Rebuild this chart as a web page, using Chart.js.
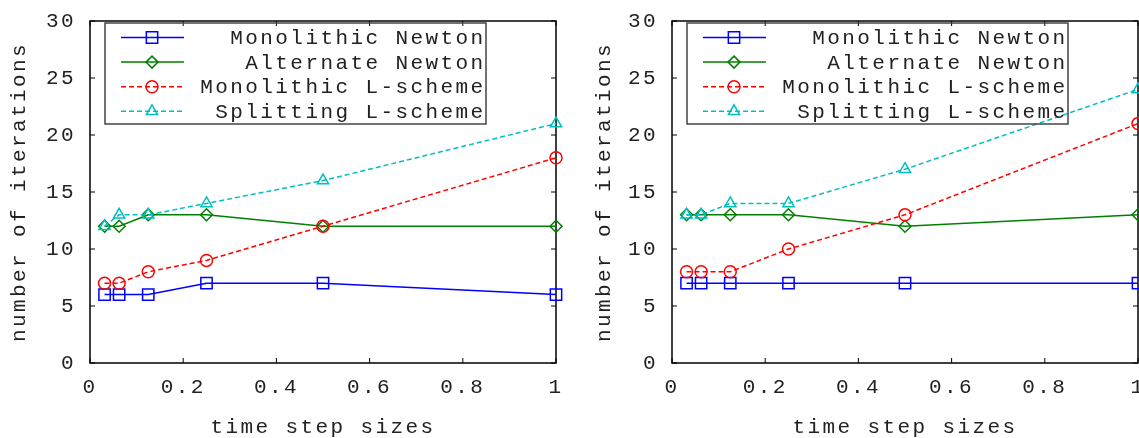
<!DOCTYPE html>
<html>
<head>
<meta charset="utf-8">
<script src="https://cdn.jsdelivr.net/npm/chart.js@4.4.1/dist/chart.umd.min.js"></script>
<style>
  html, body { margin: 0; padding: 0; background: #fff; }
  #wrap { position: relative; width: 1139px; height: 438px; overflow: hidden; }
  canvas { position: absolute; top: 0; }
</style>
</head>
<body>
<div id="wrap">
  <canvas id="left" width="570" height="438" style="left:0"></canvas>
  <canvas id="right" width="569" height="438" style="left:570px"></canvas>
</div>
<script>
// time step sizes (x) and iteration counts
const stepSizes = [1/32, 1/16, 1/8, 1/4, 1/2, 1];
const seriesNames = ['Monolithic Newton', 'Alternate Newton', 'Monolithic L-scheme', 'Splitting L-scheme'];

const leftMonoNewton  = [6, 6, 6, 7, 7, 6];
const leftAltNewton   = [12, 12, 13, 13, 12, 12];
const leftMonoL       = [7, 7, 8, 9, 12, 18];
const leftSplitL      = [12, 13, 13, 14, 16, 21];

const rightMonoNewton = [7, 7, 7, 7, 7, 7];
const rightAltNewton  = [13, 13, 13, 13, 12, 13];
const rightMonoL      = [8, 8, 8, 10, 13, 21];
const rightSplitL     = [13, 13, 14, 14, 17, 24];

const xTicks = { min: 0, max: 1, step: 0.2 };
const yTicks = { min: 0, max: 30, step: 5 };

const FONT = '"Liberation Mono", "Courier New", monospace';
const TEXT = '#222';

// gnuplot-ish line styles
const styles = [
  { color: '#0000ff', dash: [],     point: 'rect',     r: 8 },
  { color: '#008000', dash: [],     point: 'rectRot',  r: 6 },
  { color: '#ff0000', dash: [5, 3], point: 'circle',   r: 6 },
  { color: '#00bfbf', dash: [5, 3], point: 'triangle', r: 6.5 }
];

function marker(ctx, style, r, x, y) {
  ctx.beginPath();
  if (style === 'rect') {
    const h = Math.SQRT1_2 * r;
    ctx.rect(x - h, y - h, 2 * h, 2 * h);
  } else if (style === 'rectRot') {
    ctx.moveTo(x - r, y); ctx.lineTo(x, y - r); ctx.lineTo(x + r, y); ctx.lineTo(x, y + r); ctx.closePath();
  } else if (style === 'circle') {
    ctx.arc(x, y, r, 0, Math.PI * 2);
  } else {
    const a = 2 * Math.PI / 3;
    ctx.moveTo(x, y - r);
    ctx.lineTo(x + Math.sin(a) * r, y - Math.cos(a) * r);
    ctx.lineTo(x + Math.sin(2 * a) * r, y - Math.cos(2 * a) * r);
    ctx.closePath();
  }
  ctx.stroke();
}

// canvas letter spacing, so the mono font gets the wide gnuplot look
const spacing = {
  id: 'spacing',
  beforeDraw(chart) { chart.ctx.letterSpacing = '2.4px'; }
};

// box round the plot with inward tics on all four sides
const frame = {
  id: 'frame',
  beforeDatasetsDraw(chart) {
    const { ctx, chartArea: a, scales: { x, y } } = chart;
    ctx.save();
    ctx.strokeStyle = '#000';
    ctx.lineWidth = 1;
    ctx.beginPath();
    x.ticks.forEach(t => {
      const px = x.getPixelForValue(t.value);
      ctx.moveTo(px, a.bottom); ctx.lineTo(px, a.bottom - 5);
      ctx.moveTo(px, a.top); ctx.lineTo(px, a.top + 5);
    });
    y.ticks.forEach(t => {
      const py = y.getPixelForValue(t.value);
      ctx.moveTo(a.left, py); ctx.lineTo(a.left + 5, py);
      ctx.moveTo(a.right, py); ctx.lineTo(a.right - 5, py);
    });
    ctx.stroke();
    ctx.lineWidth = 1.5;
    ctx.strokeRect(a.left, a.top, a.right - a.left, a.bottom - a.top);
    ctx.restore();
  }
};

// key in the top left, text right aligned like gnuplot
const keyBox = {
  id: 'keyBox',
  afterDraw(chart) {
    const { ctx, chartArea: a } = chart;
    const x0 = a.left + 15, y0 = a.top + 2;
    ctx.save();
    ctx.strokeStyle = '#444';
    ctx.lineWidth = 1.5;
    ctx.strokeRect(x0, y0, 381, 101);
    chart.data.datasets.forEach((ds, i) => {
      const st = styles[i];
      const yy = a.top + 16.5 + i * 24.6;
      ctx.strokeStyle = st.color;
      ctx.lineWidth = 1.5;
      ctx.setLineDash(st.dash);
      ctx.beginPath();
      ctx.moveTo(x0 + 16, yy); ctx.lineTo(x0 + 79, yy);
      ctx.stroke();
      ctx.setLineDash([]);
      marker(ctx, st.point, st.r, x0 + 47, yy);
      ctx.fillStyle = TEXT;
      ctx.font = '21px ' + FONT;
      ctx.textAlign = 'right';
      ctx.textBaseline = 'middle';
      ctx.fillText(ds.label, x0 + 378 + 2.4, yy + 1);
    });
    ctx.restore();
  }
};

function buildDatasets(series) {
  return series.map((vals, i) => ({
    label: seriesNames[i],
    data: stepSizes.map((s, j) => ({ x: s, y: vals[j] })),
    order: series.length - i,   // later series drawn on top, as gnuplot does
    borderColor: styles[i].color,
    borderWidth: 1.5,
    borderDash: styles[i].dash,
    pointStyle: styles[i].point,
    pointRadius: styles[i].r,
    pointHoverRadius: styles[i].r,
    pointBorderWidth: 1.5,
    pointBorderColor: styles[i].color,
    pointBackgroundColor: 'rgba(0,0,0,0)',
    tension: 0,
    fill: false,
    clip: false
  }));
}

function makeChart(id, series, yWidth, titlePad, rightPad) {
  return new Chart(document.getElementById(id), {
    type: 'line',
    data: { datasets: buildDatasets(series) },
    plugins: [spacing, frame, keyBox],
    options: {
      responsive: false,
      animation: false,
      devicePixelRatio: 1,
      layout: { autoPadding: false, padding: { top: 21, left: 0, right: rightPad, bottom: 0 } },
      plugins: { legend: { display: false }, tooltip: { enabled: false } },
      scales: {
        x: {
          type: 'linear',
          min: xTicks.min, max: xTicks.max,
          ticks: {
            stepSize: xTicks.step, padding: 12, color: TEXT,
            font: { family: FONT, size: 21, lineHeight: 1.2 },
            callback: v => String(Number(v.toFixed(2)))
          },
          grid: { display: false, drawTicks: false },
          border: { display: false },
          title: { display: true, text: 'time step sizes', color: TEXT, font: { family: FONT, size: 21, lineHeight: 1 }, padding: { top: 0, bottom: 0 } },
          afterFit(s) { s.height = 75; s.paddingLeft = 0; s.paddingRight = 0; }
        },
        y: {
          type: 'linear',
          min: yTicks.min, max: yTicks.max,
          ticks: { stepSize: yTicks.step, padding: 14, color: TEXT, font: { family: FONT, size: 21 } },
          grid: { display: false, drawTicks: false },
          border: { display: false },
          title: { display: true, text: 'number of iterations', color: TEXT, font: { family: FONT, size: 21, lineHeight: 1.2 }, padding: { top: titlePad, bottom: 0 } },
          afterFit(s) { s.width = yWidth; s.paddingTop = 0; s.paddingBottom = 0; }
        }
      }
    }
  });
}

makeChart('left', [leftMonoNewton, leftAltNewton, leftMonoL, leftSplitL], 90, 7, 14);
makeChart('right', [rightMonoNewton, rightAltNewton, rightMonoL, rightSplitL], 102, 22, 1);
</script>
</body>
</html>
